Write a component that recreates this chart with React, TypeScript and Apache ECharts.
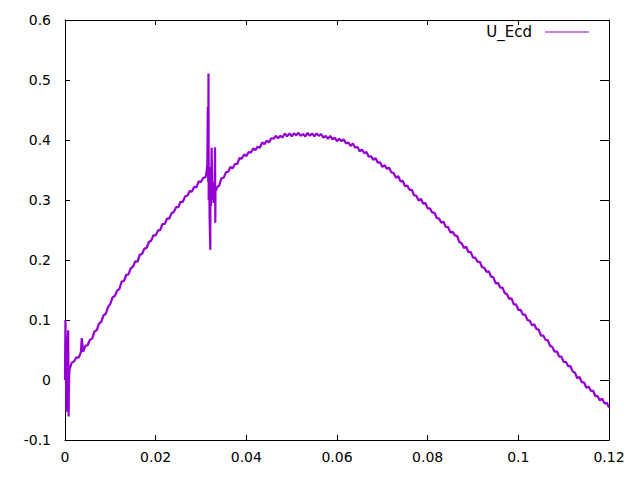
import React, { useEffect, useRef } from "react";
import * as echarts from "echarts";

const seriesName = "U_Ecd";
const lineColor = "#9400d3";
const xTickValues = [0, 0.02, 0.04, 0.06, 0.08, 0.1, 0.12];
const yTickValues = [-0.1, 0, 0.1, 0.2, 0.3, 0.4, 0.5, 0.6];

// start transient
const startPoints: [number, number][] = [
  [0.0, 0.0], [0.0001, 0.1], [0.0003, -0.053], [0.0005, 0.04], [0.0007, 0.083],
  [0.0008, -0.061], [0.0009, 0.005], [0.001, 0.018],
];

// rising part
const risePoints: [number, number][] = [
  [0.0015, 0.029], [0.002, 0.031], [0.0025, 0.038], [0.003, 0.037], [0.0035, 0.046],
  [0.0037, 0.07], [0.004, 0.047], [0.0045, 0.057], [0.005, 0.058], [0.0055, 0.067],
  [0.006, 0.069], [0.0065, 0.081], [0.007, 0.083], [0.0075, 0.094], [0.008, 0.097],
  [0.0085, 0.108], [0.009, 0.11], [0.0095, 0.122], [0.01, 0.127], [0.0105, 0.138],
  [0.011, 0.14], [0.0115, 0.149], [0.012, 0.152], [0.0125, 0.164], [0.013, 0.165],
  [0.0135, 0.175], [0.014, 0.176], [0.0145, 0.186], [0.015, 0.189], [0.0155, 0.198],
  [0.016, 0.197], [0.0165, 0.209], [0.017, 0.21], [0.0175, 0.219], [0.018, 0.22],
  [0.0185, 0.23], [0.019, 0.232], [0.0195, 0.241], [0.02, 0.241], [0.0205, 0.249],
  [0.021, 0.25], [0.0215, 0.26], [0.022, 0.26], [0.0225, 0.269], [0.023, 0.269],
  [0.0235, 0.278], [0.024, 0.28], [0.0245, 0.288], [0.025, 0.288], [0.0255, 0.297],
  [0.026, 0.297], [0.0265, 0.306], [0.027, 0.307], [0.0275, 0.315], [0.028, 0.314],
  [0.0285, 0.322], [0.029, 0.321], [0.0295, 0.331], [0.03, 0.33], [0.0305, 0.337],
  [0.031, 0.338],
];

// spikes near x = 0.032
const spikePoints: [number, number][] = [
  [0.0312, 0.345], [0.0314, 0.36], [0.0315, 0.455], [0.0316, 0.33], [0.03165, 0.511],
  [0.0317, 0.3], [0.0318, 0.355], [0.0319, 0.27], [0.03205, 0.217], [0.0321, 0.335],
  [0.0322, 0.29], [0.03235, 0.387], [0.0325, 0.3], [0.0326, 0.33], [0.0328, 0.295],
  [0.033, 0.31], [0.0331, 0.388], [0.03315, 0.262], [0.0332, 0.318], [0.0334, 0.316],
];

// peak and descent
const fallPoints: [number, number][] = [
  [0.0335, 0.321], [0.034, 0.324], [0.0345, 0.336], [0.035, 0.337], [0.0355, 0.346],
  [0.036, 0.347], [0.0365, 0.355], [0.037, 0.353], [0.0375, 0.36], [0.038, 0.36],
  [0.0385, 0.37], [0.039, 0.369], [0.0395, 0.376], [0.04, 0.373], [0.0405, 0.38],
  [0.041, 0.379], [0.0415, 0.386], [0.042, 0.383], [0.0425, 0.389], [0.043, 0.387],
  [0.0435, 0.396], [0.044, 0.393], [0.0445, 0.399], [0.045, 0.396], [0.0455, 0.403],
  [0.046, 0.402], [0.0465, 0.407], [0.047, 0.403], [0.0475, 0.407], [0.048, 0.404],
  [0.0485, 0.411], [0.049, 0.406], [0.0495, 0.411], [0.05, 0.406], [0.0505, 0.411],
  [0.051, 0.408], [0.0515, 0.412], [0.052, 0.407], [0.0525, 0.41], [0.053, 0.406],
  [0.0535, 0.412], [0.054, 0.407], [0.0545, 0.411], [0.055, 0.406], [0.0555, 0.411],
  [0.056, 0.407], [0.0565, 0.41], [0.057, 0.404], [0.0575, 0.407], [0.058, 0.402],
  [0.0585, 0.407], [0.059, 0.401], [0.0595, 0.404], [0.06, 0.398], [0.0605, 0.402],
  [0.061, 0.398], [0.0615, 0.401], [0.062, 0.394], [0.0625, 0.396], [0.063, 0.39],
  [0.0635, 0.394], [0.064, 0.387], [0.0645, 0.389], [0.065, 0.381], [0.0655, 0.384],
  [0.066, 0.378], [0.0665, 0.38], [0.067, 0.372], [0.0675, 0.373], [0.068, 0.367],
  [0.0685, 0.37], [0.069, 0.362], [0.0695, 0.363], [0.07, 0.355], [0.0705, 0.358],
  [0.071, 0.352], [0.0715, 0.354], [0.072, 0.346], [0.0725, 0.345], [0.073, 0.337],
  [0.0735, 0.34], [0.074, 0.331], [0.0745, 0.332], [0.075, 0.323], [0.0755, 0.324],
  [0.076, 0.317], [0.0765, 0.317], [0.077, 0.308], [0.0775, 0.307], [0.078, 0.299],
  [0.0785, 0.302], [0.079, 0.294], [0.0795, 0.295], [0.08, 0.286], [0.0805, 0.286],
  [0.081, 0.279], [0.0815, 0.279], [0.082, 0.27], [0.0825, 0.269], [0.083, 0.262],
  [0.0835, 0.264], [0.084, 0.255], [0.0845, 0.255], [0.085, 0.246], [0.0855, 0.247],
  [0.086, 0.241], [0.0865, 0.24], [0.087, 0.23], [0.0875, 0.228], [0.088, 0.22],
  [0.0885, 0.222], [0.089, 0.213], [0.0895, 0.213], [0.09, 0.204], [0.0905, 0.204],
  [0.091, 0.197], [0.0915, 0.197], [0.092, 0.188], [0.0925, 0.187], [0.093, 0.18],
  [0.0935, 0.181], [0.094, 0.172], [0.0945, 0.171], [0.095, 0.161], [0.0955, 0.162],
  [0.096, 0.154], [0.0965, 0.154], [0.097, 0.145], [0.0975, 0.143], [0.098, 0.135],
  [0.0985, 0.136], [0.099, 0.126], [0.0995, 0.126], [0.1, 0.117], [0.1005, 0.117],
  [0.101, 0.109], [0.1015, 0.109], [0.102, 0.1], [0.1025, 0.099], [0.103, 0.091],
  [0.1035, 0.093], [0.104, 0.085], [0.1045, 0.084], [0.105, 0.074], [0.1055, 0.074],
  [0.106, 0.067], [0.1065, 0.066], [0.107, 0.057], [0.1075, 0.055], [0.108, 0.047],
  [0.1085, 0.048], [0.109, 0.039], [0.1095, 0.039], [0.11, 0.03], [0.1105, 0.03],
  [0.111, 0.023], [0.1115, 0.023], [0.112, 0.014], [0.1125, 0.012], [0.113, 0.003],
  [0.1135, 0.005], [0.114, -0.004], [0.1145, -0.004], [0.115, -0.013], [0.1155, -0.011],
  [0.116, -0.018], [0.1165, -0.018], [0.117, -0.027], [0.1175, -0.027], [0.118, -0.034],
  [0.1185, -0.031], [0.119, -0.039], [0.1195, -0.038], [0.12, -0.046],
];

const FONT = "DejaVu Sans";

export default function App() {
  const ref = useRef<HTMLDivElement>(null);
  useEffect(() => {
    if (!ref.current) return;
    const chart = echarts.init(ref.current, null, { renderer: "svg" });
    const data = [...startPoints, ...risePoints, ...spikePoints, ...fallPoints];
    const axisLine = { show: true, onZero: false, lineStyle: { color: "#000", width: 1 } };
    const xMin = xTickValues[0];
    const xMax = xTickValues[xTickValues.length - 1];
    const xInt = xTickValues[1] - xTickValues[0];
    const yMin = yTickValues[0];
    const yMax = yTickValues[yTickValues.length - 1];
    const yInt = 0.1;
    chart.setOption({
      animation: false,
      backgroundColor: "#fff",
      grid: { left: 65, right: 31, top: 20, bottom: 40, show: false },
      xAxis: [
        {
          type: "value", position: "bottom", min: xMin, max: xMax, interval: xInt,
          axisLine,
          axisTick: { show: true, inside: true, length: 5, lineStyle: { color: "#000" } },
          axisLabel: {
            show: true, margin: 10, color: "#000", fontFamily: FONT, fontSize: 14,
            formatter: (v: number) => String(parseFloat(v.toFixed(4))),
          },
          splitLine: { show: false },
        },
        {
          type: "value", position: "top", min: xMin, max: xMax, interval: xInt,
          axisLine,
          axisTick: { show: true, inside: true, length: 5, lineStyle: { color: "#000" } },
          axisLabel: { show: false },
          splitLine: { show: false },
        },
      ],
      yAxis: [
        {
          type: "value", position: "left", min: yMin, max: yMax, interval: yInt,
          axisLine,
          axisTick: { show: true, inside: true, length: 5, lineStyle: { color: "#000" } },
          axisLabel: {
            show: true, margin: 14, color: "#000", fontFamily: FONT, fontSize: 14,
            formatter: (v: number) => String(parseFloat(v.toFixed(4))),
          },
          splitLine: { show: false },
        },
        {
          type: "value", position: "right", min: yMin, max: yMax, interval: yInt,
          axisLine,
          axisTick: { show: true, inside: true, length: 9, lineStyle: { color: "#000" } },
          axisLabel: { show: false },
          splitLine: { show: false },
        },
      ],
      series: [
        {
          name: seriesName,
          type: "line",
          xAxisIndex: 0,
          yAxisIndex: 0,
          data,
          showSymbol: false,
          symbol: "none",
          lineStyle: { color: lineColor, width: 2.2 },
          itemStyle: { color: lineColor },
          silent: true,
        },
      ],
      graphic: [
        {
          type: "text",
          x: 532,
          y: 32,
          style: {
            text: seriesName,
            fill: "#000",
            font: `15px "${FONT}"`,
            textAlign: "right",
            textVerticalAlign: "middle",
          },
        },
        {
          type: "line",
          shape: { x1: 545, y1: 32, x2: 589, y2: 32 },
          style: { stroke: lineColor, lineWidth: 1 },
        },
      ],
    });
    return () => chart.dispose();
  }, []);
  return <div ref={ref} style={{ width: 640, height: 480, position: "absolute", left: 0, top: 0 }} />;
}
